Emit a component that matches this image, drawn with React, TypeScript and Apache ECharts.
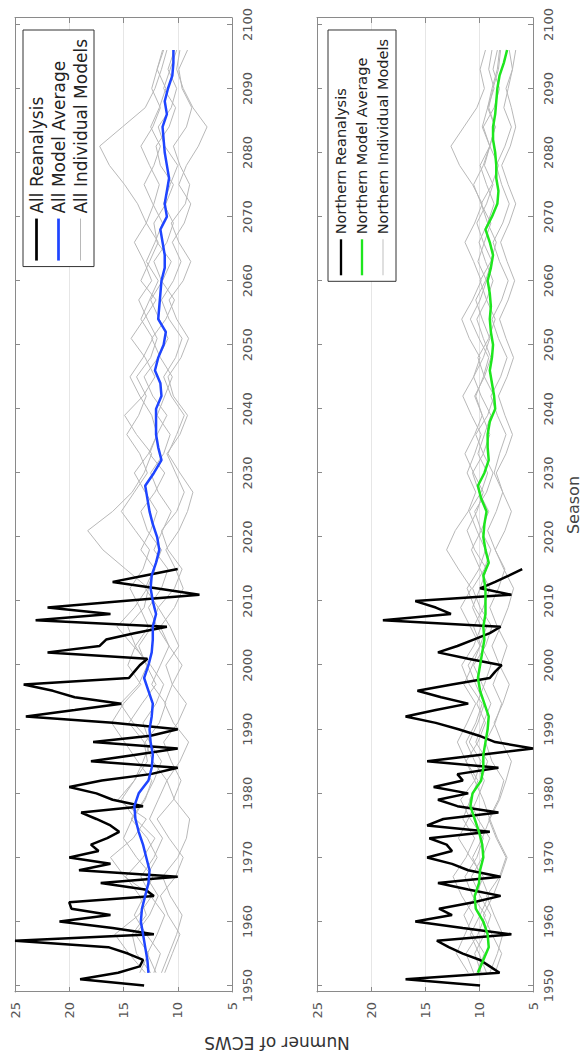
import React, { useEffect, useRef } from "react";
import * as echarts from "echarts";

const FONT = "DejaVu Sans";

const YEAR_TICKS = [1950, 1960, 1970, 1980, 1990, 2000, 2010, 2020, 2030, 2040, 2050, 2060, 2070, 2080, 2090, 2100];
const YEAR_MIN = 1949;
const YEAR_MAX = 2101;
const VALUE_MIN = 5;
const VALUE_MAX = 25;
const VALUE_STEP = 5;

const REANALYSIS_START = 1950;
const ALL_REANALYSIS = [
  13.1, 19.0, 15.5, 13.5, 13.2, 14.6, 16.4, 25.0, 12.2, 16.0,
  20.9, 16.2, 19.8, 20.0, 12.2, 13.0, 17.1, 10.0, 19.1, 16.2,
  20.0, 17.3, 18.0, 16.5, 15.4, 16.2, 17.5, 18.9, 13.2, 16.0,
  17.5, 20.0, 17.0, 12.5, 10.0, 18.0, 14.0, 10.0, 17.8, 12.5,
  10.0, 16.0, 24.0, 19.5, 15.2, 19.5, 21.5, 24.2, 14.5, 14.0,
  13.5, 12.8, 22.0, 17.2, 16.6, 14.0, 11.0, 23.1, 16.2, 22.0,
  15.0, 8.0, 12.0, 16.0, 13.0, 10.0,
];
const NORTH_REANALYSIS = [
  9.9, 16.8, 8.1, 9.0, 9.9, 11.5, 12.8, 13.9, 7.0, 11.5,
  15.9, 12.5, 13.7, 10.5, 8.0, 11.0, 13.8, 8.0, 11.0, 12.5,
  14.8, 12.5, 13.0, 14.6, 9.0, 14.8, 13.3, 8.2, 12.0, 13.8,
  11.0, 14.2, 11.5, 12.0, 8.2, 14.8, 10.0, 5.0, 8.5, 10.0,
  11.9, 14.0, 16.8, 14.0, 11.0, 13.5, 15.7, 12.5, 9.0, 8.5,
  7.9, 11.0, 13.8, 12.0, 10.5, 9.0, 8.0, 18.9, 12.6, 14.0,
  15.9, 7.0, 9.9, 8.5, 7.2, 6.0,
];

const AVERAGE_START = 1952;
const AVERAGE_STEP = 2;
const ALL_AVERAGE = [
  12.7, 12.8, 13.0, 13.2, 13.4, 13.3, 13.0, 12.7, 12.6, 12.9,
  13.2, 13.6, 13.9, 14.0, 13.6, 12.7, 12.4, 12.3, 12.5, 12.6,
  12.4, 12.3, 12.7, 13.1, 12.7, 12.4, 12.3, 12.3, 12.0, 12.3,
  12.5, 12.4, 12.0, 11.7, 11.9, 12.3, 12.6, 12.8, 13.0, 12.2,
  11.5, 11.8, 12.0, 12.0, 12.0, 11.5, 11.6, 12.1, 11.8, 11.3,
  11.1, 11.8, 11.7, 11.6, 11.5, 11.2, 11.2, 11.4, 11.6, 11.0,
  11.2, 11.0, 10.8, 11.0, 11.2, 11.3, 11.4, 11.0, 11.2, 10.9,
  10.5, 10.4, 10.4,
];
const NORTH_AVERAGE = [
  10.1, 9.6, 9.1, 9.2, 9.6, 10.3, 10.4, 10.0, 9.9, 9.6,
  9.7, 10.0, 10.4, 10.8, 10.6, 9.8, 9.6, 9.6, 9.4, 9.2,
  9.1, 9.5, 9.9, 10.1, 9.9, 9.7, 9.5, 9.6, 9.4, 9.4,
  9.4, 9.6, 9.1, 9.4, 9.6, 9.5, 9.3, 9.8, 10.1, 9.5,
  9.1, 9.2, 9.2, 9.0, 8.5, 8.6, 8.8, 9.0, 8.8, 8.7,
  8.9, 9.0, 8.9, 9.0, 9.2, 8.9, 8.7, 9.0, 9.4, 8.8,
  8.3, 8.2, 8.4, 8.4, 8.5, 8.7, 8.7, 8.5, 8.4, 8.3,
  8.1, 7.7, 7.4,
];

const MODEL_START = 1952;
const MODEL_STEP = 3;
const ALL_MODEL_1 = [12.5, 13.8, 14.2, 12.9, 13.5, 14.8, 13.2, 12.1, 13.9, 15.2, 14.0, 12.8, 13.1, 14.5, 13.3, 12.0, 12.9, 13.6, 12.4, 11.8, 13.0, 12.2, 11.5, 12.8, 13.4, 12.1, 11.2, 12.6, 11.9, 11.0, 12.3, 13.1, 11.8, 10.9, 11.7, 12.5, 11.4, 10.6, 11.9, 12.2, 11.1, 10.4, 11.6, 12.0, 10.8, 10.2, 11.3, 10.7, 10.1];
const ALL_MODEL_2 = [11.2, 10.5, 9.8, 10.9, 11.6, 10.2, 9.5, 10.8, 11.9, 10.4, 9.7, 10.6, 11.3, 10.0, 9.2, 10.5, 11.1, 9.9, 10.7, 11.8, 10.3, 9.6, 10.9, 11.5, 10.1, 9.4, 10.2, 11.0, 9.8, 9.1, 10.4, 10.9, 9.7, 9.0, 10.1, 10.8, 9.5, 8.8, 9.9, 10.6, 9.3, 8.9, 9.8, 10.4, 9.2, 8.7, 9.6, 9.9, 9.1];
const ALL_MODEL_3 = [13.0, 14.5, 15.8, 13.6, 12.4, 14.9, 16.2, 14.1, 12.9, 15.5, 14.0, 13.2, 12.5, 14.1, 15.3, 13.6, 12.8, 13.9, 14.6, 13.1, 12.7, 14.8, 16.9, 18.3, 16.0, 14.2, 13.1, 12.4, 13.8, 14.9, 13.2, 12.1, 13.0, 14.3, 13.1, 12.0, 13.4, 12.6, 11.8, 12.9, 13.7, 14.9, 16.3, 17.2, 15.1, 13.0, 12.1, 11.5, 11.0];
const ALL_MODEL_4 = [12.2, 11.6, 12.9, 14.0, 13.1, 12.3, 13.8, 15.0, 14.2, 13.0, 12.4, 13.7, 14.9, 16.1, 15.0, 13.4, 14.6, 13.9, 12.7, 13.5, 14.4, 13.2, 12.6, 13.9, 15.2, 14.0, 12.8, 13.5, 14.7, 13.6, 12.9, 13.8, 12.5, 11.9, 12.8, 13.6, 12.4, 13.1, 14.0, 12.9, 12.2, 11.7, 12.6, 13.4, 12.3, 11.6, 12.4, 11.9, 11.4];
const ALL_MODEL_5 = [12.0, 12.8, 11.9, 11.2, 12.5, 13.4, 12.2, 11.4, 12.6, 11.8, 11.0, 12.3, 13.0, 11.7, 11.1, 12.4, 11.6, 10.8, 11.9, 12.7, 11.5, 10.9, 12.2, 11.4, 10.6, 11.8, 12.5, 11.3, 10.7, 11.9, 11.2, 10.5, 11.6, 12.4, 11.1, 10.3, 11.5, 12.2, 11.0, 10.4, 11.3, 10.7, 10.0, 11.2, 11.8, 10.6, 10.1, 10.9, 10.3];
const ALL_MODEL_6 = [11.5, 10.8, 10.1, 9.6, 10.7, 11.4, 10.0, 9.2, 8.9, 10.3, 11.0, 9.8, 9.0, 10.4, 11.2, 10.5, 9.6, 10.8, 11.6, 10.3, 9.5, 10.2, 11.1, 9.9, 9.1, 8.6, 9.8, 10.9, 10.1, 9.4, 10.6, 11.3, 10.2, 9.6, 10.8, 11.5, 10.4, 9.7, 10.5, 9.4, 8.8, 9.9, 9.2, 8.1, 7.3, 8.6, 9.5, 10.1, 9.8];
const ALL_MODEL_7 = [13.5, 12.7, 13.9, 12.6, 11.8, 12.9, 11.9, 12.8, 14.3, 13.1, 12.2, 11.5, 12.6, 13.2, 12.0, 11.3, 12.5, 14.1, 15.6, 14.0, 12.8, 12.1, 13.4, 12.5, 11.9, 13.0, 14.0, 12.7, 11.9, 12.4, 13.5, 14.4, 13.2, 12.3, 13.4, 12.6, 11.8, 12.9, 12.1, 11.4, 12.3, 13.1, 12.2, 11.6, 12.5, 11.7, 11.1, 11.9, 11.3];

const NORTH_MODEL_1 = [10.5, 11.2, 10.1, 9.4, 10.6, 11.3, 10.2, 9.6, 10.8, 11.7, 10.4, 9.8, 10.9, 10.1, 9.5, 10.3, 11.0, 9.9, 9.3, 10.4, 11.1, 10.0, 9.4, 10.2, 10.9, 9.8, 9.2, 10.1, 9.5, 8.9, 9.8, 10.5, 9.6, 9.0, 9.7, 10.3, 9.4, 8.8, 9.6, 10.2, 9.3, 8.7, 9.5, 9.0, 8.5, 9.2, 8.8, 8.3, 8.1];
const NORTH_MODEL_2 = [9.0, 8.3, 7.8, 8.6, 9.3, 8.1, 7.5, 8.4, 9.1, 8.2, 7.7, 8.8, 9.4, 8.5, 7.9, 8.7, 8.0, 7.4, 8.3, 9.0, 8.2, 7.6, 8.5, 9.2, 8.4, 7.8, 8.6, 8.1, 7.5, 8.3, 8.9, 8.0, 7.4, 8.2, 8.8, 7.9, 7.3, 8.1, 8.7, 7.8, 7.2, 7.9, 8.4, 7.6, 7.0, 7.7, 7.3, 6.9, 7.2];
const NORTH_MODEL_3 = [11.0, 12.1, 11.3, 10.5, 11.6, 12.4, 11.2, 10.4, 11.5, 10.8, 10.1, 11.2, 12.0, 11.1, 10.3, 11.4, 10.6, 9.9, 10.8, 11.7, 10.7, 11.9, 13.0, 12.2, 11.0, 10.3, 11.1, 10.4, 9.8, 10.7, 11.5, 10.5, 9.9, 10.9, 11.6, 10.6, 9.8, 10.5, 11.3, 10.4, 9.7, 10.6, 11.8, 12.6, 11.4, 10.2, 9.5, 9.9, 9.4];
const NORTH_MODEL_4 = [9.8, 10.4, 9.5, 8.9, 9.9, 10.7, 9.7, 9.0, 10.1, 10.9, 9.8, 9.2, 10.3, 9.6, 8.9, 9.7, 10.5, 9.4, 8.8, 9.9, 10.6, 9.5, 8.9, 9.8, 10.4, 9.3, 8.7, 9.6, 10.3, 9.2, 8.6, 9.5, 10.1, 9.1, 8.5, 9.3, 9.9, 8.9, 8.4, 9.2, 9.8, 8.8, 8.2, 9.0, 9.6, 8.6, 8.1, 8.7, 8.3];
const NORTH_MODEL_5 = [10.2, 9.5, 10.6, 11.4, 10.3, 9.6, 10.8, 11.9, 11.0, 10.2, 9.5, 10.4, 11.2, 10.3, 9.7, 10.9, 11.6, 10.5, 9.8, 10.6, 9.9, 9.3, 10.4, 11.1, 10.2, 9.6, 10.5, 11.3, 10.4, 9.7, 10.3, 9.6, 9.1, 10.0, 10.8, 9.9, 9.3, 10.1, 9.5, 8.9, 9.8, 10.5, 9.6, 9.0, 9.7, 9.2, 8.6, 9.1, 8.8];
const NORTH_MODEL_6 = [8.5, 7.9, 8.8, 9.6, 8.7, 8.0, 7.4, 8.3, 9.0, 8.1, 7.5, 7.0, 7.9, 8.6, 7.8, 7.2, 8.1, 8.8, 8.0, 7.3, 6.8, 7.7, 8.5, 7.6, 7.0, 7.8, 8.4, 7.5, 6.9, 7.6, 8.2, 7.4, 6.8, 7.5, 8.1, 7.3, 6.7, 7.4, 8.0, 7.2, 6.6, 7.3, 7.9, 7.1, 6.6, 7.0, 7.5, 6.9, 6.6];
const NORTH_MODEL_7 = [9.3, 10.0, 10.8, 9.9, 9.1, 9.8, 10.6, 9.7, 9.0, 9.6, 10.4, 11.2, 10.1, 9.4, 10.2, 9.5, 8.9, 9.8, 10.5, 9.6, 9.0, 9.9, 10.7, 9.8, 9.1, 10.0, 10.6, 9.6, 9.0, 9.7, 10.4, 9.5, 8.9, 9.6, 10.2, 9.3, 8.7, 9.4, 10.0, 9.2, 8.6, 9.3, 9.9, 9.0, 8.5, 9.1, 8.7, 8.2, 8.0];

const ALL_MODELS = [ALL_MODEL_1, ALL_MODEL_2, ALL_MODEL_3, ALL_MODEL_4, ALL_MODEL_5, ALL_MODEL_6, ALL_MODEL_7];
const NORTH_MODELS = [NORTH_MODEL_1, NORTH_MODEL_2, NORTH_MODEL_3, NORTH_MODEL_4, NORTH_MODEL_5, NORTH_MODEL_6, NORTH_MODEL_7];

const PANELS = [
  {
    reanalysisName: "All Reanalysis",
    averageName: "All Model Average",
    modelsName: "All Individual Models",
    reanalysis: ALL_REANALYSIS,
    average: ALL_AVERAGE,
    models: ALL_MODELS,
    averageColor: "#1f45ff",
    legendTop: 23,
    legendFont: 17,
    legendLine: 19,
    legendIcon: 42,
  },
  {
    reanalysisName: "Northern Reanalysis",
    averageName: "Northern Model Average",
    modelsName: "Northern Individual Models",
    reanalysis: NORTH_REANALYSIS,
    average: NORTH_AVERAGE,
    models: NORTH_MODELS,
    averageColor: "#1ee61e",
    legendTop: 328,
    legendFont: 14.5,
    legendLine: 18,
    legendIcon: 36,
  },
];

const pairs = (start: number, step: number, vals: number[]) => vals.map((v, i) => [start + step * i, v]);

const AXIS_COLOR = "#8a8a8a";
const LABEL_COLOR = "#555555";
const GRAY_LINE = "#b8b8b8";
const THICK_ICON = "path://M0,0H40V2.6H0Z";
const THIN_ICON = "path://M0,0H40V1H0Z";

function yearAxis(gridIndex: number, position: string, showLabel: boolean) {
  return {
    type: "value",
    gridIndex,
    position,
    min: YEAR_MIN,
    max: YEAR_MAX,
    axisLine: { show: true, onZero: false, lineStyle: { color: AXIS_COLOR, width: 1 } },
    axisTick: { show: true, inside: true, length: 5, customValues: YEAR_TICKS, lineStyle: { color: AXIS_COLOR } },
    axisLabel: {
      show: showLabel,
      customValues: YEAR_TICKS,
      margin: 9,
      fontSize: 13,
      color: LABEL_COLOR,
      fontFamily: FONT,
      formatter: (v: number) => String(v),
    },
    splitLine: { show: false },
  };
}

function valueAxis(gridIndex: number, position: string, main: boolean) {
  return {
    type: "value",
    gridIndex,
    position,
    min: VALUE_MIN,
    max: VALUE_MAX,
    interval: VALUE_STEP,
    axisLine: { show: true, onZero: false, lineStyle: { color: AXIS_COLOR, width: 1 } },
    axisTick: { show: true, inside: true, length: 5, lineStyle: { color: AXIS_COLOR } },
    axisLabel: { show: main, margin: 10, fontSize: 13, color: LABEL_COLOR, fontFamily: FONT },
    splitLine: { show: main, lineStyle: { color: "#e6e6e6", width: 1 } },
  };
}

export default function App() {
  const ref = useRef<HTMLDivElement>(null);

  useEffect(() => {
    if (!ref.current) return;
    const chart = echarts.init(ref.current, null, { renderer: "svg" });

    const series: any[] = [];
    PANELS.forEach((p, gi) => {
      const xi = gi * 2;
      const yi = gi * 2;
      p.models.forEach((m) => {
        series.push({
          type: "line",
          name: p.modelsName,
          xAxisIndex: xi,
          yAxisIndex: yi,
          data: pairs(MODEL_START, MODEL_STEP, m),
          symbol: "none",
          showSymbol: false,
          silent: true,
          z: 1,
          lineStyle: { color: GRAY_LINE, width: 1 },
          itemStyle: { color: GRAY_LINE },
        });
      });
      series.push({
        type: "line",
        name: p.reanalysisName,
        xAxisIndex: xi,
        yAxisIndex: yi,
        data: pairs(REANALYSIS_START, 1, p.reanalysis),
        symbol: "none",
        showSymbol: false,
        silent: true,
        z: 2,
        lineStyle: { color: "#000000", width: 2.5 },
        itemStyle: { color: "#000000" },
      });
      series.push({
        type: "line",
        name: p.averageName,
        xAxisIndex: xi,
        yAxisIndex: yi,
        data: pairs(AVERAGE_START, AVERAGE_STEP, p.average),
        symbol: "none",
        showSymbol: false,
        silent: true,
        z: 3,
        lineStyle: { color: p.averageColor, width: 2.5 },
        itemStyle: { color: p.averageColor },
      });
    });

    chart.setOption({
      animation: false,
      backgroundColor: "#ffffff",
      textStyle: { fontFamily: FONT },
      grid: [
        { left: 65, top: 15, width: 974, height: 217 },
        { left: 65, top: 317, width: 974, height: 216 },
      ],
      xAxis: [yearAxis(0, "bottom", true), yearAxis(0, "top", false), yearAxis(1, "bottom", true), yearAxis(1, "top", false)],
      yAxis: [valueAxis(0, "left", true), valueAxis(0, "right", false), valueAxis(1, "left", true), valueAxis(1, "right", false)],
      legend: PANELS.map((p) => ({
        orient: "vertical",
        right: 30,
        top: p.legendTop,
        backgroundColor: "#ffffff",
        borderColor: "#333333",
        borderWidth: 1,
        padding: [4, 9, 4, 6],
        itemGap: 3,
        itemWidth: p.legendIcon,
        itemHeight: 16,
        symbolKeepAspect: true,
        selectedMode: false,
        z: 10,
        textStyle: { fontSize: p.legendFont, color: "#222222", fontFamily: FONT, lineHeight: p.legendLine },
        data: [
          { name: p.reanalysisName, icon: THICK_ICON },
          { name: p.averageName, icon: THICK_ICON },
          { name: p.modelsName, icon: THIN_ICON },
        ],
      })),
      graphic: [
        {
          type: "text",
          x: 14,
          y: 277,
          rotation: Math.PI / 2,
          style: { text: "Numner of ECWS", fontSize: 17, fontFamily: FONT, fill: "#333333", align: "center", verticalAlign: "middle" },
        },
        {
          type: "text",
          x: 552,
          y: 573,
          style: { text: "Season", fontSize: 16, fontFamily: FONT, fill: "#444444", align: "center", verticalAlign: "middle" },
        },
      ],
      series,
    });

    return () => chart.dispose();
  }, []);

  return (
    <div style={{ position: "absolute", left: 0, top: 0, width: 582, height: 1057, overflow: "hidden", background: "#ffffff" }}>
      <div
        ref={ref}
        style={{
          position: "absolute",
          left: 0,
          top: 0,
          width: 1057,
          height: 582,
          transformOrigin: "0 0",
          transform: "translate(0px, 1057px) rotate(-90deg)",
        }}
      />
    </div>
  );
}
